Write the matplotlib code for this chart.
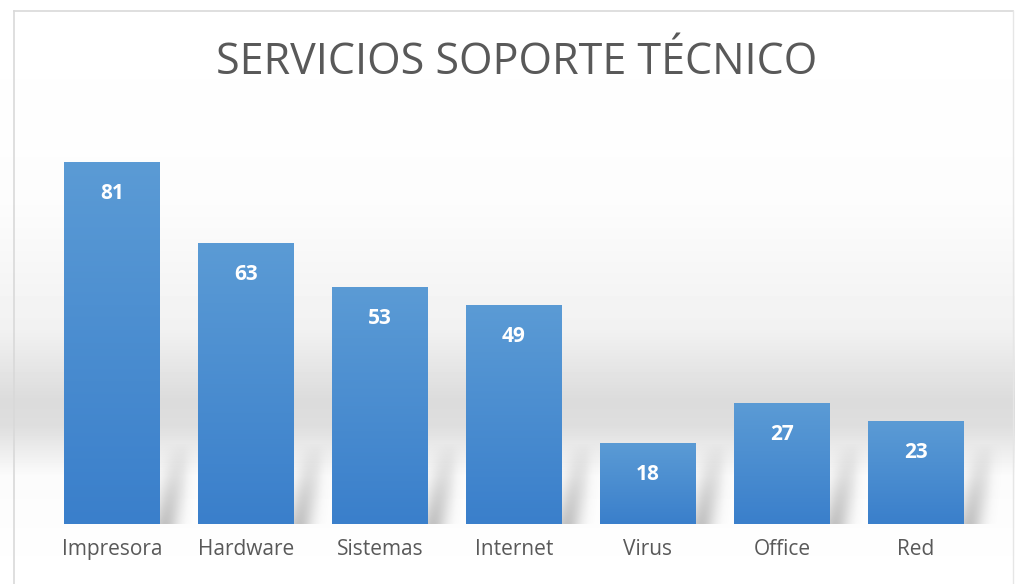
import numpy as np
import matplotlib
matplotlib.use("Agg")
from matplotlib import pyplot as plt
from matplotlib.colors import LinearSegmentedColormap

# Datos del gráfico
categorias = ['Impresora', 'Hardware', 'Sistemas', 'Internet', 'Virus', 'Office', 'Red']
servicios = [81, 63, 53, 49, 18, 27, 23]
titulo = 'SERVICIOS SOPORTE TÉCNICO'

W, H = 1015, 584
fig = plt.figure(figsize=(W / 100, H / 100), dpi=100)

# Fondo con degradado (blanco arriba, banda gris, blanco abajo)
fondo = fig.add_axes([0, 0, 1, 1], zorder=0)
filas = np.arange(H)
gris = np.interp(filas, [0, 200, 330, 400, 425, 475, H],
                 [1.0, 0.99, 0.945, 0.86, 0.87, 0.985, 1.0])
img = np.repeat(gris[:, None], 4, axis=1)
fondo.imshow(img, cmap='gray', vmin=0, vmax=1, aspect='auto',
             extent=(0, W, H, 0))
# Marco del gráfico
fondo.plot([14, 14], [11, H], color='#d9d9d9', lw=1.2)
fondo.plot([14, 1013], [11, 11], color='#d9d9d9', lw=1.2)
fondo.plot([1013, 1013], [11, H], color='#e6e6e6', lw=1.0)
fondo.set_xlim(0, W)
fondo.set_ylim(H, 0)
fondo.axis('off')

# Eje principal con las barras
ax = fig.add_axes([45 / W, (H - 524) / H, 938 / W, 446 / H], zorder=1)
ax.patch.set_visible(False)
x = np.arange(len(categorias))
ancho = 0.71
barras = ax.bar(x, servicios, width=ancho, color='none', zorder=3)

# Sombras difusas (inclinadas hacia la derecha) detrás de las barras
u = np.linspace(-0.1, 0.32, 120)
v = np.linspace(0, 20, 100)
U, V = np.meshgrid(u, v)
centro = 0.04 + 0.007 * V
intens = np.exp(-((U - centro) / 0.1) ** 2) * np.clip(1 - V / 18, 0, 1) ** 0.8
intens *= np.clip((0.32 - U) / 0.14, 0, 1)  # se anula en el borde derecho
sombra = np.zeros(U.shape + (4,))
sombra[..., :3] = 0.45
sombra[..., 3] = 0.42 * intens
for xi in x:
    x1 = xi + ancho / 2
    ax.imshow(sombra, origin='lower', aspect='auto', interpolation='bilinear',
              extent=(x1 - 0.1, x1 + 0.32, 0, 20), zorder=2, clip_on=False)

# Degradado azul en cada barra
azul = LinearSegmentedColormap.from_list('azul', ['#3a7fcb', '#5b9bd5'])
grad = np.linspace(0, 1, 256)[:, None]
for b, val in zip(barras, servicios):
    x0 = b.get_x()
    ax.imshow(grad, cmap=azul, aspect='auto', origin='lower',
              extent=(x0, x0 + b.get_width(), 0, val), zorder=3)
    ax.text(b.get_x() + b.get_width() / 2, val - 7, str(val), ha='center',
            va='center', color='white', fontsize=15, fontweight='bold',
            family='Open Sans', zorder=4)

ax.set_xlim(-0.5, len(categorias) - 0.5)
ax.set_ylim(0, 100)
ax.set_xticks(x)
ax.set_xticklabels(categorias, fontsize=15, color='#595959', family='Open Sans')
ax.tick_params(axis='x', length=0, pad=11)
ax.set_yticks([])
for s in ax.spines.values():
    s.set_visible(False)

fig.text(517 / W, 1 - 63 / H, titulo, ha='center', va='center',
         fontsize=31, color='#595959', family='Open Sans')

fig.savefig('out.png', dpi=100)
